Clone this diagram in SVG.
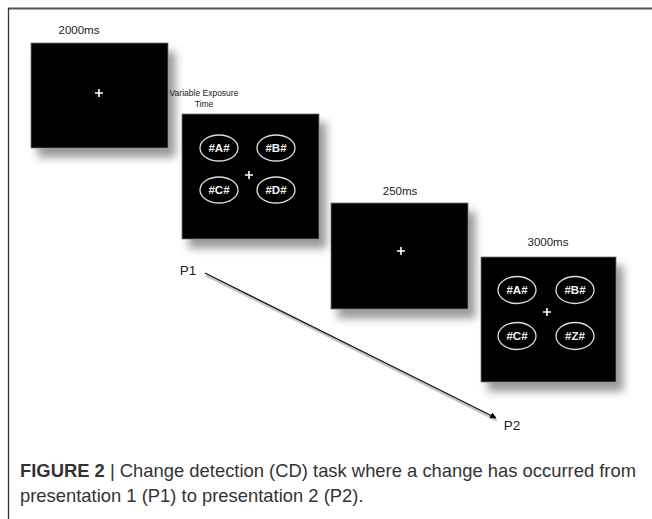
<svg xmlns="http://www.w3.org/2000/svg" width="652" height="519" viewBox="0 0 652 519">
<style>
.lbl{font-family:"Liberation Sans",Arial,sans-serif;fill:#222;text-anchor:middle}
.scr{fill:#000;stroke:#777;stroke-width:0.8}
.plus{stroke:#fff;stroke-width:1.6}
.ell{fill:none;stroke:#ddd;stroke-width:1.3}
.et{font-family:"Liberation Sans",Arial,sans-serif;font-size:11.5px;font-weight:bold;fill:#f2f2f2;text-anchor:middle}
.cap{font-family:"Liberation Sans",Arial,sans-serif;font-size:18.4px;fill:#333}
</style>
<defs>
<filter id="sh" x="-20%" y="-20%" width="150%" height="150%">
<feDropShadow dx="7" dy="9" stdDeviation="4.5" flood-color="#000" flood-opacity="0.4"/>
</filter>
<marker id="ah" viewBox="0 0 10 10" refX="9" refY="5" markerWidth="5" markerHeight="5" orient="auto">
<path d="M0,0 L10,5 L0,10 z" fill="#000"/>
</marker>
</defs>
<rect width="652" height="519" fill="#fff"/>
<line x1="8" y1="8.5" x2="652" y2="8.5" stroke="#555" stroke-width="2"/>
<line x1="8.5" y1="8" x2="8.5" y2="519" stroke="#333" stroke-width="1.3"/>

<g id="screen1">
<text class="lbl" x="79" y="34" font-size="11.5">2000ms</text>
<rect class="scr" x="31" y="43" width="137" height="105" filter="url(#sh)"/>
<path class="plus" d="M95,93 h8 M99,89 v8"/>
</g>

<g id="screen2">
<text class="lbl" x="204" y="96" font-size="8.5">Variable Exposure</text>
<text class="lbl" x="204" y="107" font-size="8.5">Time</text>
<rect class="scr" x="182" y="114" width="137" height="125" filter="url(#sh)"/>
<path class="plus" d="M245,175 h8 M249,171 v8"/>
<ellipse class="ell" cx="219" cy="148" rx="19" ry="13"/>
<text class="et" x="219" y="152">#A#</text>
<ellipse class="ell" cx="276" cy="148" rx="19" ry="13"/>
<text class="et" x="276" y="152">#B#</text>
<ellipse class="ell" cx="219" cy="190" rx="19" ry="13"/>
<text class="et" x="219" y="194">#C#</text>
<ellipse class="ell" cx="276" cy="190" rx="19" ry="13"/>
<text class="et" x="276" y="194">#D#</text>
</g>

<g id="screen3">
<text class="lbl" x="400" y="195" font-size="11.5">250ms</text>
<rect class="scr" x="331" y="203" width="137" height="106" filter="url(#sh)"/>
<path class="plus" d="M397,251 h8 M401,247 v8"/>
</g>

<g id="screen4">
<text class="lbl" x="548" y="246" font-size="11.5">3000ms</text>
<rect class="scr" x="481" y="257" width="135" height="125" filter="url(#sh)"/>
<path class="plus" d="M543,312 h8 M547,308 v8"/>
<ellipse class="ell" cx="517" cy="290" rx="19" ry="13.5"/>
<text class="et" x="517" y="294">#A#</text>
<ellipse class="ell" cx="575" cy="290" rx="19" ry="13.5"/>
<text class="et" x="575" y="294">#B#</text>
<ellipse class="ell" cx="517" cy="336" rx="19" ry="13.5"/>
<text class="et" x="517" y="340">#C#</text>
<ellipse class="ell" cx="575" cy="336" rx="19" ry="13.5"/>
<text class="et" x="575" y="340">#Z#</text>
</g>

<g id="p1"><text class="lbl" x="188" y="275" font-size="13.5">P1</text></g>
<g id="p2"><text class="lbl" x="512" y="430" font-size="13.5">P2</text></g>

<g id="connectors">
<line x1="205" y1="274" x2="496" y2="419" stroke="#8a8a8a" stroke-width="2" opacity="0.5" transform="translate(1,1.5)"/>
<line x1="205" y1="273" x2="496" y2="418" stroke="#111" stroke-width="1.3" marker-end="url(#ah)"/>
</g>

<g id="caption">
<text class="cap" x="20" y="477"><tspan font-weight="bold">FIGURE 2</tspan> | Change detection (CD) task where a change has occurred from</text>
<text class="cap" x="20" y="502">presentation 1 (P1) to presentation 2 (P2).</text>
</g>
</svg>
